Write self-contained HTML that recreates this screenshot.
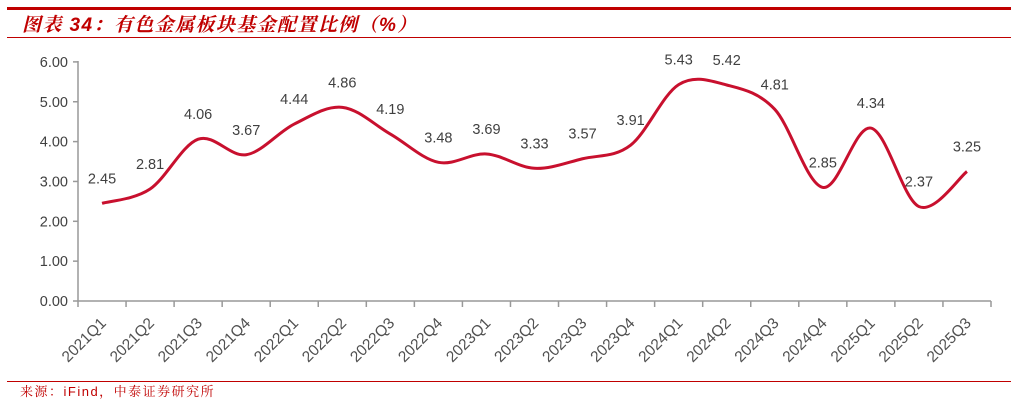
<!DOCTYPE html>
<html><head><meta charset="utf-8"><style>
body{margin:0;background:#fff;width:1011px;height:401px;overflow:hidden}
</style></head><body>
<svg id="s" width="1011" height="401" xmlns="http://www.w3.org/2000/svg" font-family="Liberation Sans, sans-serif">
<rect x="7" y="7" width="1004" height="3" fill="#C00000"/>
<rect x="7" y="37" width="1004" height="1" fill="#C00000"/>
<text x="22" y="31" fill="#C00000" font-size="19" font-style="italic" font-weight="bold" letter-spacing="1.4" font-family="Liberation Sans, Noto Serif CJK SC, serif">图表 34：有色金属板块基金配置比例（%）</text>
<rect x="7" y="381" width="1004" height="1" fill="#C00000"/>
<text x="20" y="396" fill="#C00000" font-size="13" letter-spacing="1.5" font-family="Liberation Sans, Noto Serif CJK SC, serif">来源：iFind，中泰证券研究所</text>
<g id="g"></g>
</svg>
<script>
var vals=[2.45,2.81,4.06,3.67,4.44,4.86,4.19,3.48,3.69,3.33,3.57,3.91,5.43,5.42,4.81,2.85,4.34,2.37,3.25];
var labs=[];for(var y=2021;y<=2025;y++)for(var q=1;q<=4;q++){if(labs.length<19)labs.push(y+"Q"+q);}
var L=78,R=991,bw=(R-L)/19,Y0=301,k=39.85;
var X=function(i){return L+bw/2+bw*i},Yv=function(v){return Y0-k*v};
var h='';
h+='<line x1="'+L+'" y1="61" x2="'+L+'" y2="'+Y0+'" stroke="#999" stroke-width="1.5"/>';
h+='<line x1="'+L+'" y1="'+Y0+'" x2="'+R+'" y2="'+Y0+'" stroke="#999" stroke-width="1.5"/>';
for(var t=0;t<=6;t++){var yy=Yv(t);h+='<line x1="'+(L-5)+'" y1="'+yy+'" x2="'+L+'" y2="'+yy+'" stroke="#999" stroke-width="1.5"/>';
h+='<text x="68" y="'+(yy+5)+'" text-anchor="end" font-size="14.5" fill="#404040">'+t.toFixed(2)+'</text>';}
for(var i=0;i<=19;i++){var xx=L+bw*i;h+='<line x1="'+xx+'" y1="'+Y0+'" x2="'+xx+'" y2="'+(Y0+6)+'" stroke="#999" stroke-width="1.5"/>';}
for(var i=0;i<19;i++){var ax=X(i)+5,ay=324;h+='<text transform="translate('+ax+','+ay+') rotate(-45)" text-anchor="end" font-size="15.5" fill="#505050">'+labs[i]+'</text>';}
var P=vals.map(function(v,i){return [X(i),Yv(v)]});
var d='M'+P[0][0]+','+P[0][1];
for(var i=0;i<P.length-1;i++){var p0=P[i-1]||P[i],p1=P[i],p2=P[i+1],p3=P[i+2]||P[i+1];
var c1=[p1[0]+(p2[0]-p0[0])/6,p1[1]+(p2[1]-p0[1])/6],c2=[p2[0]-(p3[0]-p1[0])/6,p2[1]-(p3[1]-p1[1])/6];
d+=' C'+c1+' '+c2+' '+p2;}
h+='<path d="'+d+'" fill="none" stroke="#C8102E" stroke-width="3"/>';
for(var i=0;i<19;i++){h+='<text x="'+X(i)+'" y="'+(P[i][1]-20)+'" text-anchor="middle" font-size="14.5" fill="#404040">'+vals[i].toFixed(2)+'</text>';}
document.getElementById('g').innerHTML=h;
</script>
</body></html>
